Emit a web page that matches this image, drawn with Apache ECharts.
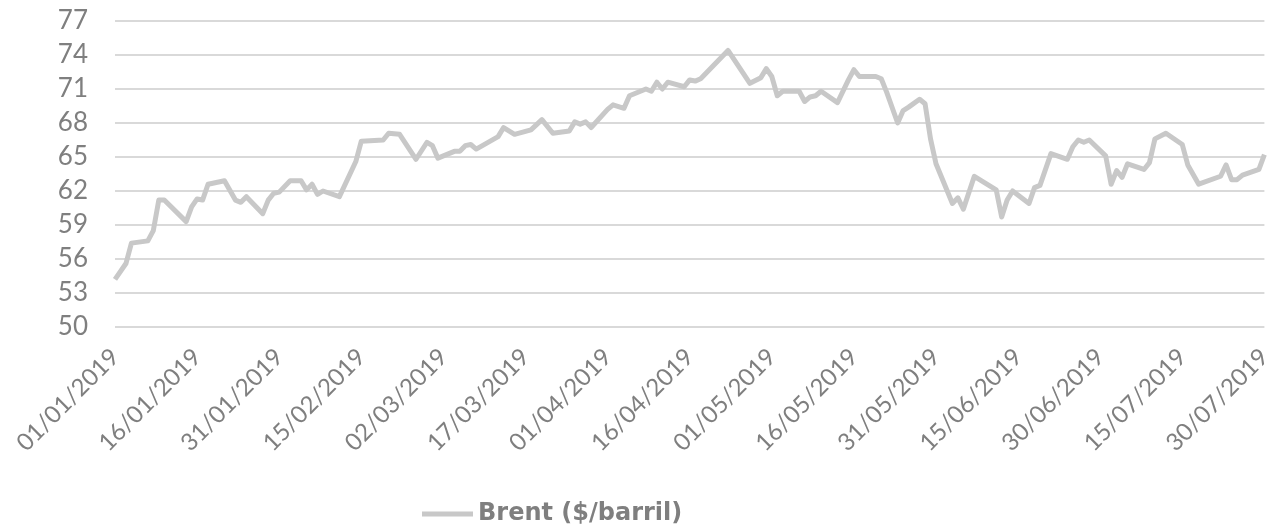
<!DOCTYPE html>
<html>
<head>
<meta charset="utf-8">
<script src="https://cdn.jsdelivr.net/npm/echarts@6/dist/echarts.min.js"></script>
<style>
html,body{margin:0;padding:0;background:#fff;}
#chart{width:1275px;height:527px;}
</style>
</head>
<body>
<div id="chart"></div>
<script>
// Observed dates (dd/mm/yyyy) and Brent prices ($/barril)
const obsDates = [
'01/01/2019','03/01/2019','04/01/2019','07/01/2019','08/01/2019','09/01/2019','10/01/2019','14/01/2019','15/01/2019','16/01/2019',
'17/01/2019','18/01/2019','21/01/2019','23/01/2019','24/01/2019','25/01/2019','28/01/2019','29/01/2019','30/01/2019','31/01/2019',
'02/02/2019','04/02/2019','05/02/2019','06/02/2019','07/02/2019','08/02/2019','11/02/2019','14/02/2019','15/02/2019','19/02/2019',
'20/02/2019','22/02/2019','25/02/2019','27/02/2019','28/02/2019','01/03/2019','04/03/2019','05/03/2019','06/03/2019','07/03/2019',
'08/03/2019','12/03/2019','13/03/2019','15/03/2019','18/03/2019','20/03/2019','22/03/2019','25/03/2019','26/03/2019','27/03/2019',
'28/03/2019','29/03/2019','01/04/2019','02/04/2019','04/04/2019','05/04/2019','08/04/2019','09/04/2019','10/04/2019','11/04/2019',
'12/04/2019','15/04/2019','16/04/2019','17/04/2019','18/04/2019','23/04/2019','27/04/2019','29/04/2019','30/04/2019','01/05/2019',
'02/05/2019','03/05/2019','06/05/2019','07/05/2019','08/05/2019','09/05/2019','10/05/2019','13/05/2019','15/05/2019','16/05/2019',
'17/05/2019','20/05/2019','21/05/2019','22/05/2019','24/05/2019','25/05/2019','26/05/2019','28/05/2019','29/05/2019','30/05/2019',
'31/05/2019','03/06/2019','04/06/2019','05/06/2019','07/06/2019','11/06/2019','12/06/2019','13/06/2019','14/06/2019','17/06/2019',
'18/06/2019','19/06/2019','21/06/2019','24/06/2019','25/06/2019','26/06/2019','27/06/2019','28/06/2019','01/07/2019','02/07/2019',
'03/07/2019','04/07/2019','05/07/2019','08/07/2019','09/07/2019','10/07/2019','12/07/2019','15/07/2019','16/07/2019','18/07/2019',
'22/07/2019','23/07/2019','24/07/2019','25/07/2019','26/07/2019','29/07/2019','30/07/2019'
];
const brent = [
54.2,55.6,57.4,57.6,58.5,61.2,61.2,59.3,60.6,61.3,
61.2,62.6,62.9,61.2,61.0,61.5,60.0,61.2,61.8,61.9,
62.9,62.9,62.1,62.6,61.7,62.0,61.5,64.6,66.4,66.5,
67.1,67.0,64.8,66.3,66.0,64.9,65.5,65.5,66.0,66.1,
65.7,66.8,67.6,67.0,67.4,68.3,67.1,67.3,68.1,67.9,
68.1,67.6,69.2,69.6,69.3,70.4,71.0,70.8,71.6,71.0,
71.6,71.2,71.8,71.7,71.9,74.4,71.5,72.0,72.8,72.1,
70.4,70.8,70.8,69.9,70.3,70.4,70.8,69.8,71.8,72.7,
72.1,72.1,71.9,70.7,68.0,69.1,69.4,70.1,69.7,66.6,
64.4,60.9,61.4,60.4,63.3,62.1,59.7,61.2,62.0,60.9,
62.3,62.5,65.3,64.8,65.9,66.5,66.3,66.5,65.1,62.6,
63.8,63.2,64.4,63.9,64.5,66.6,67.1,66.1,64.3,62.6,
63.3,64.3,63.0,63.0,63.4,63.9,65.2
];
const seriesName = 'Brent ($/barril)';
const yMin = 50, yMax = 77, yStep = 3;

// Full daily calendar for the category axis (labels every 15 days)
const days = [];
for (let t = Date.UTC(2019,0,1); t <= Date.UTC(2019,6,30); t += 86400000) {
  const d = new Date(t);
  const dd = String(d.getUTCDate()).padStart(2,'0');
  const mm = String(d.getUTCMonth()+1).padStart(2,'0');
  days.push(dd + '/' + mm + '/' + d.getUTCFullYear());
}
const lookup = {};
obsDates.forEach((d,i)=>{ lookup[d] = brent[i]; });
const lineData = days.map(d => (d in lookup) ? lookup[d] : null);

const txt = '#7f7f7f';
const font = 'Lato, "Open Sans", sans-serif';
const chart = echarts.init(document.getElementById('chart'));
chart.setOption({
  animation: false,
  grid: { left: 115, right: 3, top: 21, bottom: 200, containLabel: false },
  legend: {
    data: [{ name: seriesName, icon: 'rect' }],
    left: 417, top: 497,
    itemWidth: 51, itemHeight: 5, itemGap: 4,
    textStyle: { color: txt, fontSize: 24, fontWeight: 'bold', fontFamily: '"DejaVu Sans", sans-serif' }
  },
  xAxis: {
    type: 'category', data: days, boundaryGap: false,
    axisLine: { show: false }, axisTick: { show: false },
    axisLabel: { interval: 14, rotate: 45, color: txt, fontSize: 24, fontFamily: font, margin: 26 },
    splitLine: { show: false }
  },
  yAxis: {
    type: 'value', min: yMin, max: yMax, interval: yStep,
    axisLine: { show: false }, axisTick: { show: false },
    axisLabel: { color: txt, fontSize: 26, fontFamily: font, margin: 27 },
    splitLine: { lineStyle: { color: '#d9d9d9', width: 2 } }
  },
  series: [{
    name: seriesName, type: 'line', data: lineData, connectNulls: true,
    showSymbol: false, symbol: 'none',
    lineStyle: { color: '#c8c8c8', width: 5, join: 'round' },
    itemStyle: { color: '#c8c8c8' }
  }]
});
</script>
</body>
</html>
